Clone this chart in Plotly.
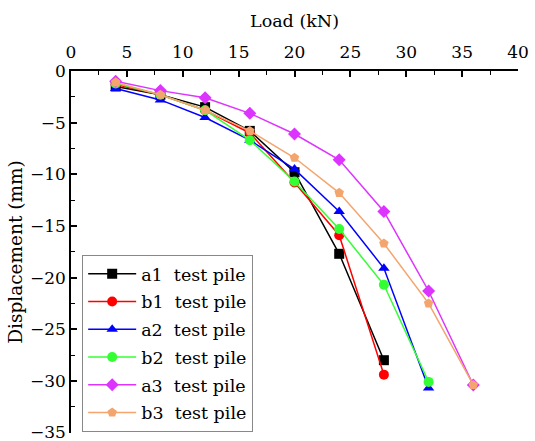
import plotly.graph_objects as go

load = [4, 8, 12, 16, 20, 24, 28, 32, 36]
a1 = [-1.5, -2.3, -3.5, -5.8, -9.8, -17.7, -28.0]
b1 = [-1.3, -2.3, -3.8, -6.0, -10.8, -15.9, -29.4]
a2 = [-1.7, -2.8, -4.5, -6.7, -9.5, -13.6, -19.1, -30.7]
b2 = [-1.2, -2.3, -3.8, -6.7, -10.7, -15.3, -20.7, -30.1]
a3 = [-1.0, -1.9, -2.6, -4.1, -6.1, -8.6, -13.6, -21.3, -30.4]
b3 = [-1.1, -2.3, -3.8, -5.8, -8.4, -11.8, -16.7, -22.5, -30.4]

series = [
    ("a1  test pile", a1, "#000000", "square"),
    ("b1  test pile", b1, "#ff0000", "circle"),
    ("a2  test pile", a2, "#0000ff", "triangle-up"),
    ("b2  test pile", b2, "#33ff33", "circle"),
    ("a3  test pile", a3, "#dd33ff", "diamond"),
    ("b3  test pile", b3, "#f4a56e", "pentagon"),
]

FAM = "DejaVu Serif"

fig = go.Figure()
for i, (name, ys, color, sym) in enumerate(series):
    fig.add_trace(go.Scatter(
        x=load[:len(ys)], y=ys, name=name, mode="lines+markers",
        legendgroup=f"g{i}",
        line=dict(color=color, width=1.5),
        marker=dict(symbol=sym, size=10, color=color),
    ))

tickfont = dict(family=FAM, size=17, color="#000")

fig.update_layout(
    width=535, height=441,
    margin=dict(l=71, r=17, t=71, b=8, autoexpand=False),
    paper_bgcolor="white", plot_bgcolor="white",
    font=dict(family=FAM, size=17, color="#000"),
    showlegend=True,
    legend=dict(
        x=0.025, y=0.003, xanchor="left", yanchor="bottom",
        bordercolor="#888", borderwidth=1, bgcolor="white",
        font=dict(family=FAM, size=17.5, color="#000"),
        tracegroupgap=2, itemwidth=48,
    ),
    xaxis=dict(
        side="top", range=[0, 40], dtick=5, tick0=0, automargin=False,
        showline=True, linecolor="#000", linewidth=1.5,
        ticks="inside", ticklen=6, tickwidth=1.5, tickcolor="#000",
        tickfont=tickfont, ticklabeloverflow="allow", ticklabelstandoff=4,
        minor=dict(ticks="inside", dtick=2.5, ticklen=4, tickcolor="#000", tickwidth=1),
        showgrid=False, zeroline=False, mirror=False,
        title=dict(text="Load (kN)", standoff=10, font=dict(family=FAM, size=17.5, color="#000")),
    ),
    yaxis=dict(
        range=[-35.05, 0], dtick=5, tick0=0, automargin=False,
        showline=True, linecolor="#000", linewidth=1.5,
        ticks="inside", ticklen=6, tickwidth=1.5, tickcolor="#000",
        tickfont=tickfont, ticklabeloverflow="allow",
        minor=dict(ticks="inside", dtick=2.5, ticklen=4, tickcolor="#000", tickwidth=1),
        showgrid=False, zeroline=False, mirror=False,
        title=dict(text="Displacement (mm)", standoff=2, font=dict(family=FAM, size=18.5, color="#000")),
    ),
)

fig.write_html("out.html")
